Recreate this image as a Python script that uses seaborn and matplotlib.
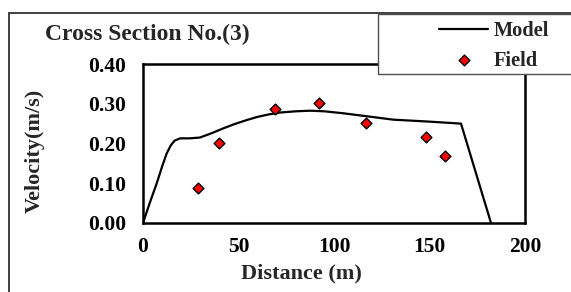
import matplotlib
matplotlib.use("Agg")
import matplotlib.pyplot as plt
import matplotlib.patches as patches
import seaborn as sns

# model velocity profile
model_x = [0, 3.5, 7.2, 10, 12.4, 14.5, 16.5, 19.4, 24.6, 29.8, 36, 42, 48, 54.3, 60, 65.6, 72, 80, 87.4, 95, 104.9, 118, 131, 150, 166.5, 182.2]
model_y = [0, 0.05, 0.10, 0.142, 0.175, 0.195, 0.207, 0.213, 0.213, 0.215, 0.226, 0.238, 0.249, 0.259, 0.267, 0.273, 0.278, 0.281, 0.2825, 0.281, 0.276, 0.268, 0.26, 0.255, 0.250, 0]

# field measurements
field_x = [28.8, 39.8, 69, 92.1, 116.9, 148, 157.9]
field_y = [0.088, 0.202, 0.2875, 0.301, 0.2516, 0.2155, 0.169]

xticks = [0, 50, 100, 150, 200]
yticks = [0.0, 0.1, 0.2, 0.3, 0.4]

sns.set_style("white")
plt.rcParams['font.family'] = ['Liberation Serif', 'DejaVu Serif']
plt.rcParams['font.weight'] = 'bold'

fig = plt.figure(figsize=(5.71, 2.92), dpi=100)
ax = fig.add_axes([143/571, 1-223/292, (525-143)/571, (223-64)/292])

sns.lineplot(x=model_x, y=model_y, sort=False, color='black', linewidth=1.6, ax=ax, label='Model')
sns.scatterplot(x=field_x, y=field_y, marker='D', color='red', edgecolor='black', linewidth=1.0, s=30, ax=ax, label='Field', zorder=3)

ax.set_xlim(0, 200)
ax.set_ylim(0, 0.4)
ax.set_xticks(xticks)
ax.set_yticks(yticks)
ax.set_yticklabels(['%.2f' % v for v in yticks])
ax.tick_params(axis='both', direction='out', length=3, width=1, labelsize=15.5, colors='black')
ax.tick_params(axis='y', pad=9)
ax.tick_params(axis='x', pad=7)
for lab in ax.get_xticklabels() + ax.get_yticklabels():
    lab.set_fontweight('bold')
for sp in ax.spines.values():
    sp.set_color('black')
    sp.set_linewidth(1.8)

handles, labels = ax.get_legend_handles_labels()
ax.get_legend().remove()

# outer frame and legend box
fig.patches.append(patches.Rectangle((8.5/571, -0.1), 1.2, 1 - 12.5/292 + 0.1, transform=fig.transFigure,
                                     fill=False, edgecolor='#404040', linewidth=1.4, zorder=1))
fig.patches.append(patches.Rectangle((378/571, 1-74/292), 0.5, 60/292, transform=fig.transFigure,
                                     facecolor='white', edgecolor='#505050', linewidth=1.0, zorder=2))
fig.legend(handles, labels, loc='upper left', bbox_to_anchor=(421/571, 1-3/292), frameon=False,
           prop={'weight': 'bold', 'size': 14.7}, handlelength=2.4, handletextpad=0.25, labelspacing=0.45)

fig.text(45/571, 1-34/292, 'Cross Section No.(3)', fontsize=17, fontweight='bold', va='center', ha='left')
fig.text(301/571, 1-273/292, 'Distance (m)', fontsize=16, fontweight='bold', va='center', ha='center')
fig.text(35/571, 1-151/292, 'Velocity(m/s)', fontsize=16, fontweight='bold', va='center', ha='center', rotation=90)

fig.savefig('out.png', dpi=100)
